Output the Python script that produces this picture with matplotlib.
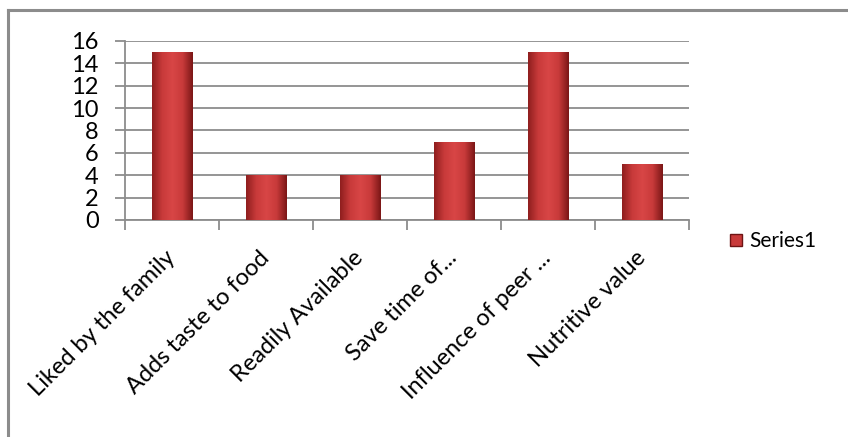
import numpy as np
import matplotlib.pyplot as plt
from matplotlib.lines import Line2D
from matplotlib.colors import LinearSegmentedColormap
from matplotlib.patches import Patch

plt.rcParams["font.family"] = ["Lato", "DejaVu Sans"]

categories = [
    "Liked by the family",
    "Adds taste to food",
    "Readily Available",
    "Save time of...",
    "Influence of peer ...",
    "Nutritive value",
]
values = [15, 4, 4, 7, 15, 5]
series_name = "Series1"

grid_color = "#8c8c8c"
bar_cmap = LinearSegmentedColormap.from_list(
    "bar", ["#8e1e1e", "#c83a3a", "#d84646", "#c83a3a", "#7a1616"]
)

fig = plt.figure(figsize=(8.48, 4.37), dpi=100)
ax = fig.add_axes([0.1474, 0.4966, 0.665, 0.4096])

x = np.arange(len(categories))
bars = ax.bar(x, values, width=0.43, color="#c83a3a", edgecolor="#6e1414",
              linewidth=0.6, zorder=3)

# horizontal shading on each bar, clipped to the bar shape
grad = np.linspace(0, 1, 256).reshape(1, -1)
for b in bars:
    x0, y0 = b.get_x(), b.get_y()
    im = ax.imshow(grad, cmap=bar_cmap, aspect="auto", zorder=3.5,
                   extent=[x0, x0 + b.get_width(), y0, y0 + b.get_height()])
    im.set_clip_path(b)

ax.set_xlim(-0.5, len(categories) - 0.5)
ax.set_ylim(0, 16)
ax.set_yticks(range(0, 17, 2))
ax.tick_params(axis="y", labelsize=17, length=7, width=1.3, color=grid_color, pad=12)
ax.yaxis.grid(True, color=grid_color, linewidth=1.3, zorder=0)

ax.set_xticks(np.arange(-0.5, len(categories), 1.0))
ax.set_xticklabels([])
ax.tick_params(axis="x", length=7, width=1.3, color=grid_color)
ax.set_xticks(x, minor=True)
ax.set_xticklabels(categories, minor=True, rotation=45, ha="right",
                   va="center", rotation_mode="anchor", fontsize=17)
ax.tick_params(axis="x", which="minor", length=0, pad=25)

for side in ["top", "right"]:
    ax.spines[side].set_visible(False)
for side in ["left", "bottom"]:
    ax.spines[side].set_color(grid_color)
    ax.spines[side].set_linewidth(1.3)

fig.legend(handles=[Patch(facecolor="#c83a3a", edgecolor="#6e1414", label=series_name)],
           loc="center left", bbox_to_anchor=(0.861, 0.448), frameon=False,
           borderpad=0, borderaxespad=0,
           fontsize=15, handlelength=0.55, handleheight=0.55, handletextpad=0.35)

# outer chart frame (top and left edges)
fig.add_artist(Line2D([0.0095, 1.0], [0.976, 0.976], color=grid_color, linewidth=2.2))
fig.add_artist(Line2D([0.0095, 0.0095], [0.0, 0.976], color=grid_color, linewidth=2.2))

fig.savefig("out.png", dpi=100)
